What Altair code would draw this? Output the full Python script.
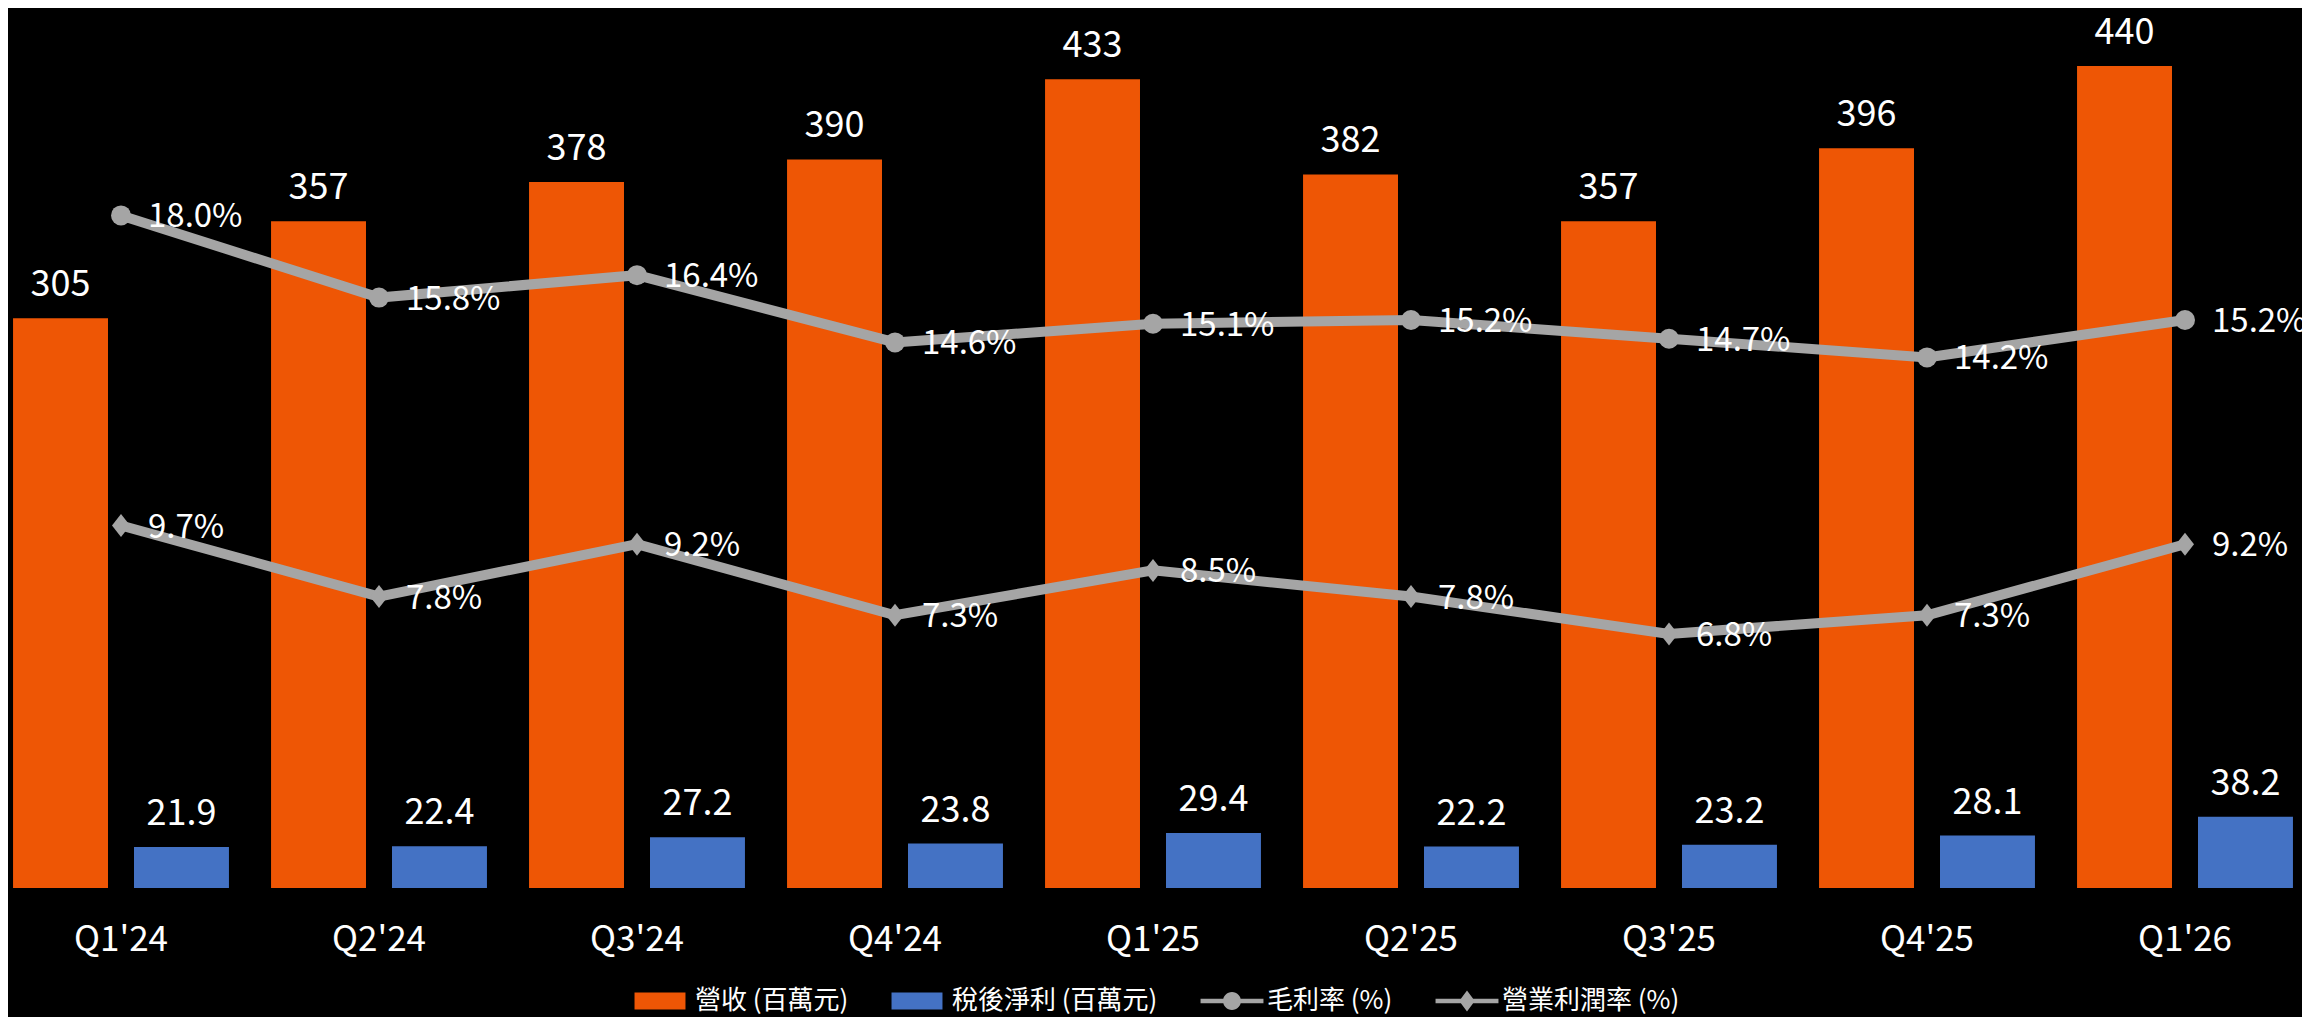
import altair as alt
import pandas as pd

# ---- data ----
quarters = ["Q1'24", "Q2'24", "Q3'24", "Q4'24", "Q1'25", "Q2'25", "Q3'25", "Q4'25", "Q1'26"]
revenue = [305, 357, 378, 390, 433, 382, 357, 396, 440]
net_profit = [21.9, 22.4, 27.2, 23.8, 29.4, 22.2, 23.2, 28.1, 38.2]
gross_margin = [18.0, 15.8, 16.4, 14.6, 15.1, 15.2, 14.7, 14.2, 15.2]
op_margin = [9.7, 7.8, 9.2, 7.3, 8.5, 7.8, 6.8, 7.3, 9.2]

bar_series = ["營收 (百萬元)", "稅後淨利 (百萬元)"]
line_series = ["毛利率 (%)", "營業利潤率 (%)"]
series_colors = ["#EE5605", "#4472C4", "#A5A5A5", "#A5A5A5"]

FONT = "Noto Sans CJK TC"
n = len(quarters)

bars_df = pd.DataFrame({
    "quarter": quarters * 2,
    "series": [bar_series[0]] * n + [bar_series[1]] * n,
    "value": revenue + net_profit,
    "label": [f"{v:.0f}" for v in revenue] + [f"{v:.1f}" for v in net_profit],
})
lines_df = pd.DataFrame({
    "quarter": quarters * 2,
    "series": [line_series[0]] * n + [line_series[1]] * n,
    "value": gross_margin + op_margin,
    "label": [f"{v:.1f}%" for v in gross_margin + op_margin],
})
all_series = bar_series + line_series

RECT = "M-0.98,-0.327H0.98V0.327H-0.98Z"
CIRCLE = ("M-1.21,-0.087H1.21V0.087H-1.21Z "
          "M-0.346,0A0.346,0.346 0 1,1 0.346,0A0.346,0.346 0 1,1 -0.346,0Z")
DIAMOND = "M-1.21,-0.087H1.21V0.087H-1.21Z M0,-0.4L0.3,0L0,0.4L-0.3,0Z"
SHAPE_EXPR = (f"datum.value === '{line_series[0]}' ? '{CIRCLE}' : "
              f"(datum.value === '{line_series[1]}' ? '{DIAMOND}' : '{RECT}')")
TALL_DIAMOND = "M0,-1.15L0.9,0L0,1.15L-0.9,0Z"

color = alt.Color(
    "series:N",
    scale=alt.Scale(domain=all_series, range=series_colors),
    legend=alt.Legend(
        title=None, orient="none", legendX=626, legendY=967,
        direction="horizontal", columns=4, columnPadding=42,
        symbolSize=2704, symbolType={"expr": SHAPE_EXPR},
        symbolFillColor={"expr": "scale('color', datum.value)"},
        symbolStrokeWidth=0, symbolOpacity=1,
        labelFont=FONT, labelFontSize=26, labelColor="#FFFFFF",
        labelOffset=9, labelLimit=0,
    ),
)

x = alt.X(
    "quarter:N",
    scale=alt.Scale(domain=quarters, range=[-16, 2306], paddingInner=0, paddingOuter=0),
    axis=alt.Axis(title=None, ticks=False, tickSize=0, domain=False, grid=False,
                  labelAngle=0, labelColor="#FFFFFF", labelFont=FONT, labelFontSize=35,
                  labelBaseline="alphabetic", labelPadding=62),
)
xoff = alt.XOffset("series:N", scale=alt.Scale(domain=bar_series, paddingInner=0.215, paddingOuter=0.174))
y_bar = alt.Y("value:Q", scale=alt.Scale(domain=[0, 471.1], nice=False, zero=True), axis=None)
y_line = alt.Y("value:Q", scale=alt.Scale(domain=[0, 23.55], nice=False, zero=True), axis=None)

bars = alt.Chart(bars_df).mark_bar().encode(x=x, xOffset=xoff, y=y_bar, color=color)
bar_text = alt.Chart(bars_df).mark_text(
    baseline="alphabetic", dy=-22, font=FONT, fontSize=36, color="#FFFFFF"
).encode(x=x, xOffset=xoff, y=y_bar, text="label:N")

lines = alt.Chart(lines_df).mark_line(strokeWidth=10).encode(x=x, y=y_line, color=color)
points = alt.Chart(lines_df).mark_point(filled=True, size=400, opacity=1).encode(
    x=x, y=y_line, color=color,
    shape=alt.Shape("series:N", scale=alt.Scale(domain=line_series, range=["circle", TALL_DIAMOND]), legend=None),
)
line_text = alt.Chart(lines_df).mark_text(
    align="left", baseline="middle", dx=27, dy=2, font=FONT, fontSize=33, color="#FFFFFF"
).encode(x=x, y=y_line, text="label:N")

chart = alt.layer(
    alt.layer(bars, bar_text),
    alt.layer(lines, points, line_text),
).resolve_scale(y="independent").properties(
    width=2294, height=880,
    padding={"left": 0, "top": 0, "right": 0, "bottom": 129},
    autosize=alt.AutoSizeParams(type="none"),
    background="#000000",
    usermeta={"embedOptions": {"defaultStyle": "html,body{background:#000000;overflow:hidden;}"}},
).configure_view(stroke=None)

chart.save("out.html", embed_options={"renderer": "svg", "actions": False})
